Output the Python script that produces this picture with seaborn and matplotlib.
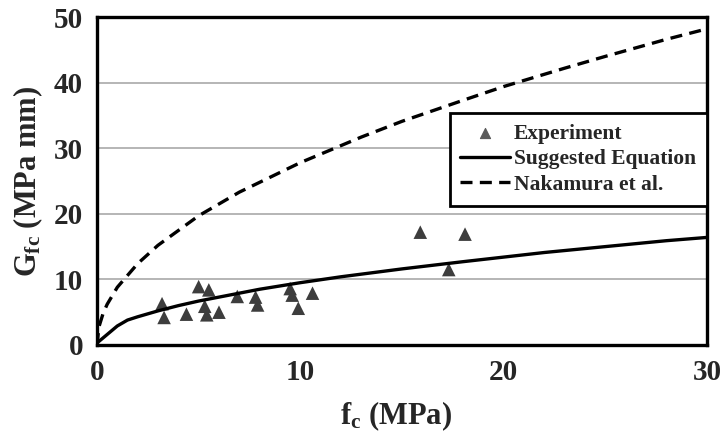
import numpy as np
import pandas as pd
import matplotlib
matplotlib.use("Agg")
import matplotlib.pyplot as plt
import seaborn as sns

# Measured fracture energy vs. compressive strength
exp_fc = [3.2, 3.3, 4.4, 5.0, 5.5, 5.3, 5.4, 6.0, 6.9, 7.8, 7.9, 9.5, 9.6, 9.9, 10.6, 15.9, 17.3, 18.1]
exp_gfc = [6.3, 4.2, 4.7, 8.9, 8.4, 5.9, 4.6, 5.0, 7.4, 7.3, 6.1, 8.6, 7.6, 5.6, 7.9, 17.2, 11.5, 16.9]

# Suggested equation curve
sug_fc = [0, 0.5, 1.0, 1.5, 2, 3, 4, 5, 6, 8, 10, 12, 15, 18, 20, 22, 25, 28, 30]
sug_gfc = [0.3, 1.6, 2.9, 3.8, 4.3, 5.2, 6.0, 6.7, 7.3, 8.5, 9.5, 10.4, 11.6, 12.7, 13.4, 14.1, 15.0, 15.9, 16.4]

# Nakamura et al. curve
nak_fc = [0, 0.1, 0.3, 0.5, 1, 2, 3, 5, 7, 10, 13, 15, 18, 20, 23, 25, 28, 30]
nak_gfc = [0, 2.8, 4.8, 6.2, 8.8, 12.4, 15.2, 19.7, 23.3, 27.8, 31.7, 34.1, 37.3, 39.4, 42.2, 44.0, 46.6, 48.2]

x_ticks = [0, 10, 20, 30]
y_ticks = [0, 10, 20, 30, 40, 50]

sns.set_style("white")
plt.rcParams["font.family"] = ["Liberation Serif", "DejaVu Serif"]
plt.rcParams["font.weight"] = "bold"
plt.rcParams["mathtext.fontset"] = "custom"
plt.rcParams["mathtext.rm"] = "Liberation Serif:bold"
plt.rcParams["mathtext.it"] = "Liberation Serif:bold"
plt.rcParams["mathtext.bf"] = "Liberation Serif:bold"

fig = plt.figure(figsize=(7.21, 4.32), dpi=100)
ax = fig.add_axes([0.1345, 0.2014, 0.8461, 0.7592])

exp_df = pd.DataFrame({"fc": exp_fc, "gfc": exp_gfc})
sug_df = pd.DataFrame({"fc": sug_fc, "gfc": sug_gfc})
nak_df = pd.DataFrame({"fc": nak_fc, "gfc": nak_gfc})

sns.scatterplot(data=exp_df, x="fc", y="gfc", marker="^", s=95, color="#3d3d3d",
                edgecolor="none", ax=ax, label="Experiment", zorder=3)
sns.lineplot(data=sug_df, x="fc", y="gfc", color="black", linewidth=2.4, ax=ax,
             label="Suggested Equation", zorder=4)
sns.lineplot(data=nak_df, x="fc", y="gfc", color="black", linewidth=2.4, ax=ax,
             linestyle=(0, (3.6, 2.2)), label="Nakamura et al.", zorder=4)

ax.set_xlim(0, 30)
ax.set_ylim(0, 50)
ax.set_xticks(x_ticks)
ax.set_yticks(y_ticks)
ax.yaxis.grid(True, color="#b5b5b5", linewidth=1.4)
ax.xaxis.grid(False)
ax.set_axisbelow(True)
ax.tick_params(axis="both", length=0, labelsize=21)
ax.tick_params(axis="x", pad=10)
ax.tick_params(axis="y", pad=10)
for lab in ax.get_xticklabels() + ax.get_yticklabels():
    lab.set_fontweight("bold")
for sp in ax.spines.values():
    sp.set_color("black")
    sp.set_linewidth(2.4)
    sp.set_visible(True)

ax.set_xlabel(r"$\mathrm{f_c}$ (MPa)", fontsize=22, fontweight="bold")
ax.set_ylabel(r"$\mathrm{G_{fc}}$ (MPa mm)", fontsize=22, fontweight="bold")
ax.xaxis.set_label_coords(0.49, -0.165)
ax.yaxis.set_label_coords(-0.085, 0.5)

leg = ax.legend(loc="upper right", bbox_to_anchor=(1.0, 0.707), borderaxespad=0,
                frameon=True, fancybox=False, fontsize=15.5, handlelength=2.3,
                handletextpad=0.2, labelspacing=0.25, borderpad=0.5,
                markerscale=0.75)
leg.get_frame().set_edgecolor("black")
leg.get_frame().set_linewidth(2.0)
leg.get_frame().set_alpha(1)
for t in leg.get_texts():
    t.set_fontweight("bold")
for h in leg.legend_handles[:1]:
    h.set_color("#5a5a5a")

fig.savefig("out.png", dpi=100)
